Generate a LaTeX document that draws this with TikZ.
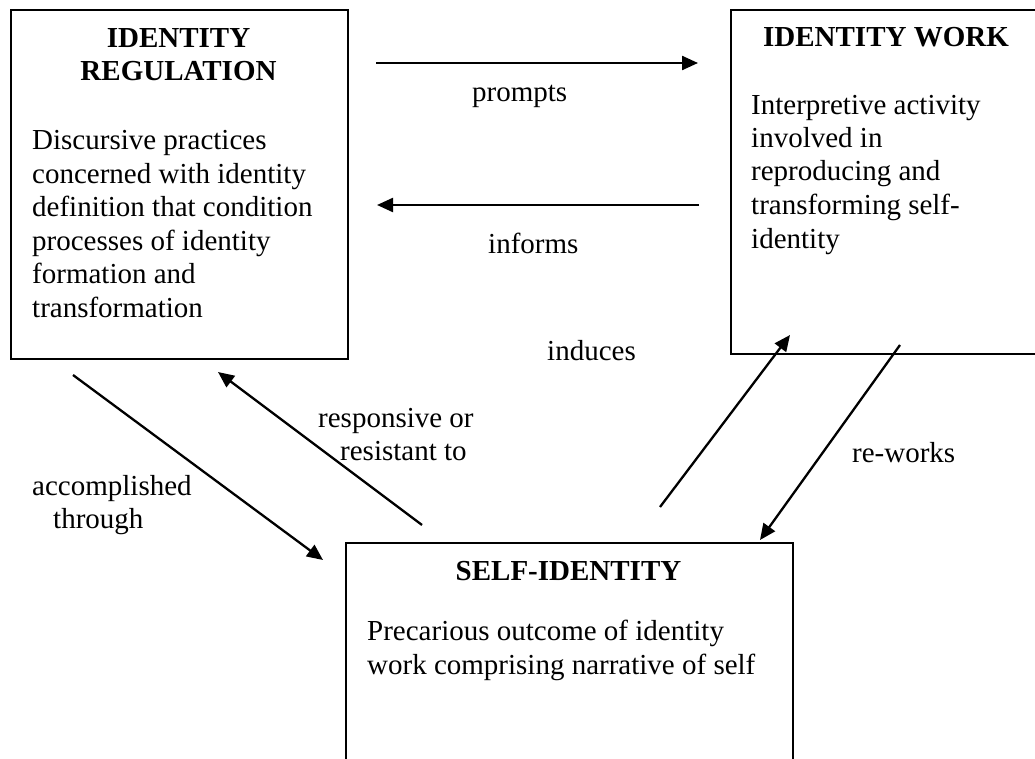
\documentclass[tikz,border=0pt]{standalone}
\usepackage{fontspec}
\setmainfont{Liberation Serif}
\usetikzlibrary{arrows.meta}
\begin{document}
\begin{tikzpicture}[x=1pt,y=-1pt,
  box/.style={draw,line width=1.8pt,rectangle,inner sep=0pt,anchor=north west},
  txt/.style={inner sep=0pt,font=\fontsize{29}{33.5}\selectfont,align=left,anchor=base west},
  ttl/.style={inner sep=0pt,font=\fontsize{29}{33.5}\selectfont\bfseries,align=center,anchor=base},
  lbl/.style={inner sep=0pt,font=\fontsize{29}{33.5}\selectfont,align=left,anchor=base west},
  arr/.style={line width=2.3pt,-{Triangle[length=16pt,width=14pt]}}]
\useasboundingbox (0,0) rectangle (1035,759);
% boxes
\node[box,minimum width=337pt,minimum height=349pt] (reg) at (10,9) {};
\node[box,minimum width=312pt,minimum height=344pt] (work) at (730,9) {};
\node[box,minimum width=447pt,minimum height=230pt] (self) at (345,542) {};
% box texts (anchor = baseline of the last line)
\node[ttl] (regT) at (178.5,81) {IDENTITY\\REGULATION};
\node[txt] (regB) at (32,317) {Discursive practices\\concerned with identity\\definition that condition\\processes of identity\\formation and\\transformation};
\node[ttl] (workT) at (886,47) {IDENTITY WORK};
\node[txt] (workB) at (751,248) {Interpretive activity\\involved in\\reproducing and\\transforming self-\\identity};
\node[ttl] (selfT) at (568.5,580) {SELF-IDENTITY};
\node[txt] (selfB) at (367,674) {Precarious outcome of identity\\work comprising narrative of self};
% connector end points
\coordinate (p1) at (376,63); \coordinate (p2) at (698,63);
\coordinate (i1) at (699,205); \coordinate (i2) at (377,205);
\coordinate (a1) at (73,375); \coordinate (a2) at (323,560);
\coordinate (r1) at (422,525); \coordinate (r2) at (218,372);
\coordinate (d1) at (660,507); \coordinate (d2) at (790,335);
\coordinate (w1) at (900,345); \coordinate (w2) at (760,540);
\draw[arr] (p1) -- (p2);
\draw[arr] (i1) -- (i2);
\draw[arr] (a1) -- (a2);
\draw[arr] (r1) -- (r2);
\draw[arr] (d1) -- (d2);
\draw[arr] (w1) -- (w2);
% labels
\node[lbl] (lp) at (472,102) {prompts};
\node[lbl] (li) at (488,253) {informs};
\node[lbl] (ld) at (547,360) {induces};
\node[lbl] (lr1) at (318,427) {responsive or};
\node[lbl] (lr2) at (340,460) {resistant to};
\node[lbl] (la1) at (32,495) {accomplished};
\node[lbl] (la2) at (53,528) {through};
\node[lbl] (lw) at (852,462) {re-works};
\end{tikzpicture}
\end{document}
